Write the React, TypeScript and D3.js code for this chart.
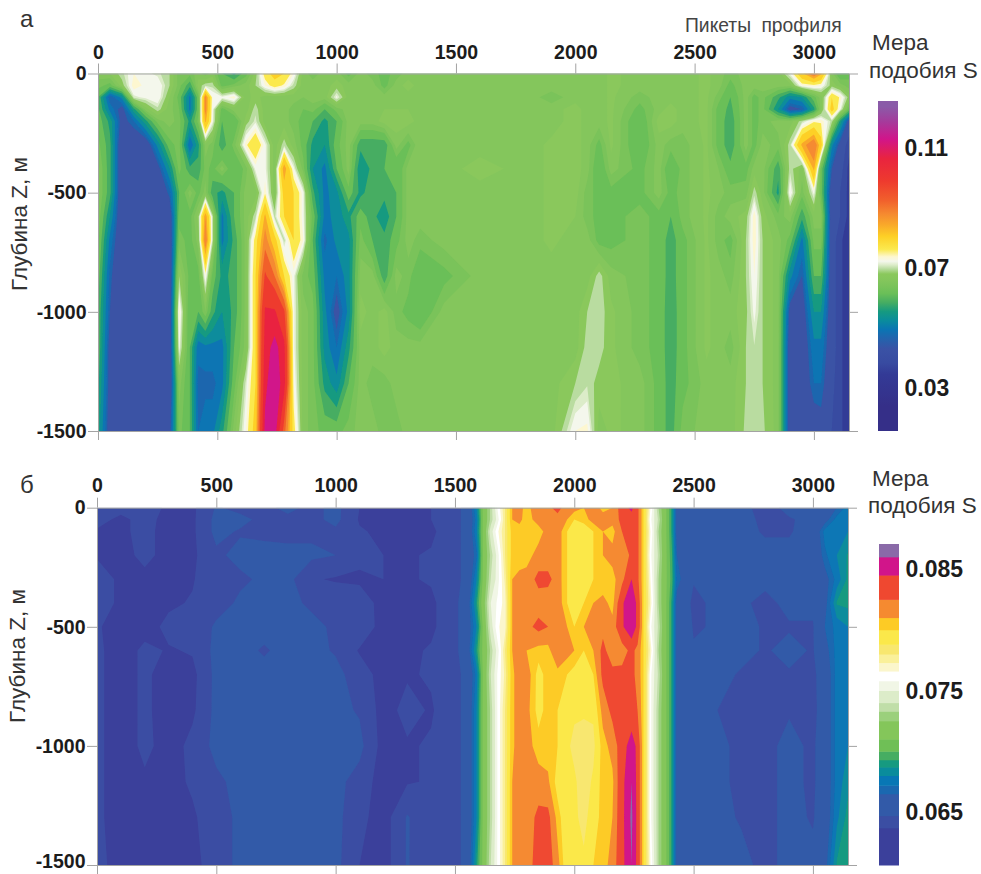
import React, { useEffect, useRef } from "react";
import * as d3 from "d3";

const FONT = "'Liberation Sans', Arial, sans-serif";

const picketTicks = [0, 500, 1000, 1500, 2000, 2500, 3000];
const depthTicks = [0, -500, -1000, -1500];

// similarity S x 1000, one list per picket, top to bottom
const picketsA = [0, 50, 100, 150, 200, 250, 300, 340, 385, 420, 450, 480, 520, 570, 620, 660, 700, 740, 780, 820, 860, 900, 950, 1000, 1050, 1100, 1150, 1200, 1250, 1300, 1350, 1450, 1600, 1800, 1900, 2000, 2050, 2100, 2150, 2270, 2350, 2400, 2450, 2550, 2600, 2650, 2715, 2750, 2785, 2850, 2900, 2950, 3000, 3030, 3075, 3110, 3147];
const depthsA = [0, -50, -100, -150, -200, -300, -400, -500, -600, -700, -850, -1000, -1150, -1300, -1500];
const simA = [
  [66, 64, 60, 61, 62, 64, 66, 66, 65, 64, 62, 60, 60, 58, 56],
  [67, 62, 46, 50, 56, 58, 58, 58, 54, 50, 47, 46, 44, 44, 43],
  [70, 68, 52, 44, 44, 41, 41, 41, 41, 41, 41, 41, 41, 41, 42],
  [73, 74, 71, 56, 48, 41, 41, 41, 41, 41, 41, 41, 41, 41, 41],
  [72, 72.5, 72, 66, 56, 42, 41, 41, 41, 41, 41, 41, 41, 41, 41],
  [71, 73, 73, 70, 64, 52, 44, 41, 41, 41, 41, 41, 41, 41, 41],
  [69, 69, 67, 66, 66, 62, 54, 47, 42, 41, 41, 41, 41, 41, 44],
  [64, 64, 62, 63, 64, 64, 64, 60, 62, 64, 69, 74, 72, 66, 64],
  [64, 58, 50, 50, 56, 48, 58, 66, 62, 62, 62, 60, 60, 60, 60],
  [66, 68, 62, 62, 64, 56, 58, 62, 68, 66, 62, 60, 49, 47, 48],
  [64, 70, 88, 88, 84, 66, 64, 66, 86, 90, 73, 65, 50, 47, 50],
  [66, 70, 73, 72, 72, 64, 62, 58, 70, 70, 62, 58, 50, 47, 50],
  [60, 62, 72, 62, 60, 58, 66, 56, 50, 50, 56, 54, 50, 50, 56],
  [56, 64, 74, 66, 60, 64, 60, 60, 60, 58, 58, 58, 60, 62, 66],
  [62, 66, 66, 66, 68, 74, 64, 66, 66, 66, 66, 66, 66, 71, 73],
  [68, 69, 68, 70, 71, 78, 72, 66, 70, 76, 78, 78, 78, 78, 80],
  [76, 73, 66, 66, 66, 72, 72, 74, 84, 88, 96, 104, 106, 108, 112],
  [80, 76, 66, 66, 66, 66, 66, 66, 70, 80, 90, 104, 113, 116, 114],
  [78, 74, 66, 66, 66, 70, 86, 80, 78, 70, 78, 96, 105, 106, 92],
  [73, 70, 66, 64, 64, 66, 72, 78, 78, 78, 72, 72, 72, 73, 76],
  [66, 66, 65, 63, 62, 62, 64, 72, 72, 73, 64, 66, 66, 66, 66],
  [64, 66, 66, 64, 60, 56, 54, 58, 62, 60, 62, 64, 64, 64, 64],
  [66, 66, 66, 60, 56, 54, 50, 50, 50, 47, 50, 52, 53, 56, 62],
  [66, 68, 72, 64, 60, 62, 60, 53, 52, 52, 48, 44, 48, 52, 62],
  [62, 66, 66, 66, 66, 66, 66, 62, 56, 53, 53, 52, 56, 60, 64],
  [66, 66, 66, 66, 66, 58, 54, 56, 62, 64, 66, 68, 66, 66, 66],
  [64, 66, 66, 66, 66, 58, 58, 59, 58, 60, 66, 66, 66, 64, 66],
  [62, 62, 66, 67, 68, 58, 60, 58, 55, 58, 58, 68, 68, 64, 64],
  [64, 66, 66, 67, 68, 66, 60, 60, 60, 62, 66, 64, 66, 66, 64],
  [66, 68, 66, 67, 68, 62, 66, 66, 66, 66, 64, 62, 66, 66, 66],
  [66, 66, 66, 66, 66, 67, 66, 66, 66, 64, 60, 60, 66, 66, 66],
  [65, 65, 65, 65, 65, 66, 66, 66, 66, 66, 62, 66, 66, 66, 66],
  [66, 66, 66, 66, 66, 66, 68, 66, 66, 66, 66, 66, 66, 66, 66],
  [66, 66, 66, 66, 66, 66, 66, 66, 66, 66, 66, 66, 66, 66, 66],
  [66, 66, 64, 66, 66, 67.5, 67.5, 67.5, 67.5, 67.5, 66, 66, 66, 66, 66],
  [66, 66, 66, 68, 68, 68, 68, 68, 67, 66, 66, 66, 66, 69, 73],
  [66, 66, 66, 66, 66, 66, 66, 64, 64, 66, 66, 69, 70, 70.3, 73.5],
  [66, 66, 66, 66, 66, 62, 60, 62, 62, 62, 70, 70.3, 70, 68, 66],
  [67.5, 67.5, 67.5, 67.5, 67.5, 67.5, 66, 62, 62, 62, 66, 67.5, 67.5, 67.5, 67.5],
  [66, 66, 64, 62, 60, 60, 62, 62, 64, 64, 64, 64, 64, 66, 66],
  [66, 66, 66, 66, 68, 66, 66, 66, 62, 62, 62, 62, 62, 62, 62],
  [66, 66, 66, 68, 68, 64, 60, 62, 60, 58.5, 58.5, 58, 58, 58.5, 58.5],
  [66, 66, 66, 66, 66, 64, 64, 64, 64, 62, 62, 62, 62, 62, 64],
  [67.5, 67.5, 67.5, 67.5, 67.5, 67.5, 67.5, 67.5, 67.5, 67.5, 67.5, 67.5, 67.5, 66, 66],
  [66, 66, 64, 62, 62, 62, 65, 66, 64, 64, 66, 66, 66, 66, 66],
  [64, 62, 60, 59, 58, 58, 61, 64, 66, 62, 64, 66, 64, 66, 66],
  [66, 66, 66, 66, 66, 66, 62, 64, 68, 69, 69, 68.5, 69, 69, 69.5],
  [66, 66, 62, 62, 62, 62, 66, 70, 74, 74, 73, 72, 70.4, 70.3, 70.3],
  [66, 66, 64, 64, 64, 66, 66, 66, 68, 69, 69, 69, 69, 69, 69.5],
  [66, 66, 58, 54, 66, 64, 58, 56, 64, 66, 66, 66, 66, 66, 66],
  [72, 66, 52, 44, 66, 70, 70, 73, 66, 62, 52, 44, 42, 42, 42],
  [82, 73, 54, 46, 70, 84, 66, 64, 58, 50, 46, 43, 42, 42, 42],
  [90, 74, 62, 56, 74, 90, 84, 72, 66, 64, 60, 54, 50, 48, 43],
  [84, 73, 66, 66, 74, 80, 62, 62, 66, 64, 60, 54, 50, 48, 44],
  [66, 68, 78, 80, 70, 52, 46, 42, 42, 42, 42, 42, 42, 41, 40],
  [60, 66, 74, 72, 56, 44, 42, 40, 40, 38, 38, 38, 38, 38, 38],
  [62, 64, 68, 62, 44, 38, 36, 36, 36, 34, 34, 34, 34, 34, 34],
];

const picketsB = [0, 100, 200, 300, 400, 500, 600, 700, 800, 900, 1000, 1100, 1200, 1300, 1400, 1500, 1550, 1590, 1620, 1650, 1680, 1710, 1740, 1770, 1800, 1850, 1890, 1930, 1970, 2000, 2040, 2080, 2120, 2160, 2200, 2240, 2265, 2290, 2320, 2350, 2380, 2410, 2430, 2500, 2600, 2700, 2800, 2900, 3000, 3050, 3100, 3147];
const depthsB = [0, -50, -100, -200, -300, -400, -500, -600, -700, -850, -1000, -1150, -1300, -1500];
const simB = [
  [64, 64, 63.6, 63.6, 64.2, 64.2, 63.8, 64, 64, 64, 64, 64, 64, 64],
  [64, 63.5, 63.5, 63.3, 63.5, 63.5, 63.3, 63, 63, 63, 63, 63, 63, 63.3],
  [64.2, 64, 64, 64, 63.4, 63.3, 63.2, 64, 64, 64, 64, 63.5, 63.2, 63],
  [63.5, 63.4, 63.3, 63.3, 63.3, 63.5, 64, 63.6, 63, 63, 63.2, 63.2, 63, 63],
  [63.5, 63.5, 63.5, 63.5, 63.6, 63.8, 63.8, 63.8, 63.4, 63.5, 64, 63.9, 63.5, 63.2],
  [64.8, 65, 65, 64.5, 64.6, 64.2, 64.9, 65, 65, 65, 65, 64.5, 64.5, 64.5],
  [64.4, 65, 64.6, 65, 64.5, 64.9, 65, 65, 65, 65, 65, 65, 64.8, 64.8],
  [64.4, 64.4, 64.5, 65, 64.9, 65, 65, 64.6, 65, 65, 65, 65, 65, 65],
  [65, 64.4, 64.4, 65, 65, 65, 65, 65, 65, 65, 65, 65, 65, 65],
  [64.4, 64.4, 64.5, 64.9, 63.8, 64.5, 65, 65, 65, 65, 65, 65, 65, 65],
  [65, 65, 64.5, 64.7, 63.6, 64.4, 64.5, 64.6, 65, 65, 65, 65, 65, 65],
  [63.7, 63.6, 63.8, 64, 63.5, 64.3, 64.4, 63.6, 64.2, 64.6, 65, 64.3, 64, 63.7],
  [63.5, 63.4, 63.5, 63.7, 63.7, 63.3, 63.3, 63.3, 63.3, 63.3, 63.3, 63.2, 63.2, 63.2],
  [63.5, 63.5, 63.5, 63.6, 63.6, 63.5, 63.2, 63.5, 63.6, 64, 63.6, 63.6, 64.8, 64.8],
  [63.7, 63.7, 63.5, 63.8, 63.8, 63.5, 63.5, 63.8, 63.8, 63.6, 63.8, 63.8, 63.8, 63.7],
  [64.4, 64.4, 64.4, 64.4, 64.4, 64.4, 64.4, 64.4, 64.4, 64.4, 64.4, 64.4, 64.4, 64.4],
  [65, 65, 65, 65, 65, 65.5, 65.5, 65.5, 65, 65, 65, 65, 65, 65],
  [68, 67.5, 67.8, 67, 68, 69, 68, 69, 67.5, 68, 68, 68, 68, 69],
  [71.5, 71.5, 71.5, 71.5, 71.5, 72, 71.5, 71.5, 71.5, 71.5, 71.5, 71.5, 71.5, 71.5],
  [73.5, 73.5, 74.5, 73.5, 74, 75, 74.5, 73.5, 74, 73.5, 73.5, 73.5, 73.5, 74],
  [76, 75.5, 76.5, 75.5, 75.5, 76, 76.5, 75.5, 76, 76, 76, 76, 76, 76],
  [78, 78, 78, 78, 77.5, 77, 77, 78, 77.5, 78, 78, 78, 78, 78],
  [81, 81, 80.5, 80.5, 81, 81, 81, 81, 80.8, 80.8, 80.8, 81, 81, 81],
  [81.5, 81.3, 80.5, 80.5, 81.3, 81.5, 81.5, 81.5, 81.5, 81.5, 81.5, 81.5, 81.5, 81.5],
  [80.5, 80.5, 80.5, 80.5, 81.5, 82, 82, 81, 81.8, 81.5, 81.5, 81.5, 81.5, 81.5],
  [82, 81.5, 80.5, 81.5, 83, 81.7, 83, 80.5, 79.5, 79.5, 80.5, 81.5, 83, 83.5],
  [82, 81.5, 81.5, 81.5, 83, 81.5, 82.5, 80.5, 80.5, 80.5, 80.5, 81.2, 83, 83.5],
  [83.2, 81.7, 81.7, 81.7, 81.7, 81.8, 81.5, 82.5, 80.5, 80, 80, 79.5, 80.5, 81.5],
  [81.5, 81, 80, 80, 80, 80, 81, 81.5, 80, 79, 79, 79, 79, 79],
  [81.5, 80, 79, 79, 79, 79, 80, 81, 79.5, 79, 78.5, 79, 79, 79],
  [81, 80.5, 79, 79, 79, 80, 81, 80, 79.5, 79, 78.2, 78.2, 78.5, 79],
  [81.5, 81.5, 80, 80, 80, 81, 82.5, 81, 80, 79, 78.5, 79, 79.3, 80],
  [80.7, 81.5, 81, 81, 80, 81.5, 82, 83, 83, 81.5, 80.5, 80.5, 80.5, 80.5],
  [81, 81.5, 80.5, 81.5, 80.5, 80.5, 81.5, 81.5, 83, 83, 81.5, 80.7, 81, 81.5],
  [83.5, 83, 82.5, 81, 82, 84.2, 84.2, 81.7, 83, 83, 83.5, 84, 84, 84],
  [85, 83.5, 83, 83, 84.5, 86, 86, 83, 83, 83, 85.5, 86, 86.3, 86],
  [83, 83, 83, 83, 83, 84, 84, 82, 82, 82.5, 84, 84, 84, 84],
  [80, 80, 80, 80, 80, 80, 80, 80, 80, 80, 80, 80, 80, 80],
  [76.5, 76, 76.5, 76, 76.5, 77, 76, 77, 76, 76, 76, 76, 76, 76.5],
  [73.5, 74, 73.5, 74, 73.5, 73.5, 74, 73.5, 74, 73.5, 73.5, 73.5, 73.5, 73.5],
  [71.5, 71.5, 71.5, 71.5, 71.5, 71.5, 71.5, 71.5, 71.5, 71.5, 71.5, 71.5, 71.5, 71.5],
  [69, 69, 69, 69.3, 69.5, 69, 69, 69, 69, 69, 69, 69, 69, 69],
  [66, 66, 66, 66.5, 67, 66, 66, 66, 66, 66, 66, 66, 66, 66],
  [65, 65, 65, 65, 64.8, 64.4, 64.6, 64.8, 64.8, 65, 65, 65, 65, 65],
  [64.8, 64.8, 65, 65, 65, 65, 64.8, 65, 65, 64.7, 65, 65, 65, 65],
  [65, 65, 65, 65, 65, 64.9, 65, 65, 64.6, 64.4, 64.4, 64.4, 64.6, 65],
  [64.3, 64.5, 64.6, 65, 65, 64.4, 64.6, 64.6, 64.4, 64.4, 64.4, 64.4, 64.4, 64.4],
  [65, 64.6, 64.6, 65, 65, 65, 64.6, 65, 64.6, 64.6, 65, 65, 65, 65],
  [65, 65, 65.2, 65, 65, 65, 64.6, 64.6, 64.4, 64.3, 64.5, 64.5, 64.6, 65],
  [65, 66, 67.5, 67, 66, 66, 66.5, 66, 65.5, 65.5, 65.5, 65.5, 65.5, 66],
  [66.5, 67.5, 67.5, 68, 67.5, 68.8, 67.5, 67.5, 67.5, 67.5, 67.5, 67.5, 67.8, 68.8],
  [67.5, 67.8, 68, 68.8, 68.9, 68.9, 68, 67.5, 67.8, 67.8, 68, 68.5, 69, 69],
];

// lower bound of each colour band, and its colour
const boundsA = [15, 32, 37, 40, 46, 48, 51, 54, 57, 60, 63, 65, 67, 69, 70.5, 71.5, 73, 74.5, 78, 83, 86, 90, 95, 103, 110, 116, 122];
const coloursA = ["#352f88", "#333a96", "#384ba1", "#3a52a5", "#1f66ae", "#0a75b3", "#0a8c9c", "#169a80", "#46ad62", "#6abf58", "#7ac35a", "#84c65c", "#8ac85c", "#b9dca0", "#dcecc9", "#f4f7ec", "#fdf7d0", "#fbe94e", "#fdd026", "#f9a82a", "#f58a30", "#f1602c", "#ee3a2e", "#e9243f", "#d1158a", "#a43c9c", "#8a5ba8"];
const boundsB = [60, 63.7, 64.7, 66.5, 67.2, 68, 68.7, 69.3, 70, 71, 72.5, 73.3, 74, 75, 75.8, 76.6, 77.3, 78, 78.8, 80, 81, 82.5, 84.5, 86];
const coloursB = ["#3b409b", "#3b4ea3", "#325aa8", "#1a68b0", "#0877b5", "#0a8c9c", "#169a80", "#46ad62", "#6fbf56", "#84c65a", "#9bd07c", "#c0dea8", "#dcecc9", "#f1f6e6", "#ffffff", "#fbf6cc", "#faf09a", "#f8e76f", "#fbe84a", "#fdcb25", "#f58a30", "#ef4830", "#d1158a", "#8a6aa8"];

const legendTicksA = [30, 70, 110];
const legendTicksB = [65, 75, 85];

function Panel({ id, pickets, depths, columns, bounds, colours, left, right, top, bottom, legendTicks, legendTop, legendBottom, legendRange, legendX, labelFormat, smooth, labelX, labelY, topPadding }: any) {
  const topRef = useRef(null);
  const bottomRef = useRef(null);
  const leftRef = useRef(null);
  const rightRef = useRef(null);

  const x = d3.scaleLinear().domain([0, 3147]).range([left, right]);
  const y = d3.scaleLinear().domain([0, -1500]).range([top, bottom]);

  // grid index -> picket / depth, the lists are not evenly spaced
  const ix = d3.scaleLinear().domain(pickets.map((_: number, i: number) => i + 0.5)).range(pickets).clamp(true);
  const iy = d3.scaleLinear().domain(depths.map((_: number, j: number) => j + 0.5)).range(depths).clamp(true);
  const n = pickets.length;
  const m = depths.length;
  const flat: number[] = [];
  for (let j = 0; j < m; j++) for (let i = 0; i < n; i++) flat.push(columns[i][j]);
  const bands = d3.contours().size([n, m]).thresholds(bounds)(flat);
  const project = d3.geoTransform({
    point(px: number, py: number) {
      (this as any).stream.point(x(ix(px)), y(iy(py)));
    },
  });
  const path = d3.geoPath(project);
  const colour = d3.scaleThreshold<number, string>().domain(bounds.slice(1)).range(colours);

  // colour bar
  const legendY = d3.scaleLinear().domain([legendTicks[0], legendTicks[2]]).range(legendRange);
  const sMin = legendY.invert(legendBottom);
  const sMax = legendY.invert(legendTop);
  const edges = [...bounds.filter((b: number) => b > sMin && b < sMax)];
  const cells = [sMin, ...edges].map((lo: number, i: number, arr: number[]) => ({
    lo,
    hi: i + 1 < arr.length ? arr[i + 1] : sMax,
  }));
  const gradId = `grad-${id}`;

  useEffect(() => {
    const style = (g: any) => {
      g.selectAll("line").attr("stroke", "#a3a3a3").attr("stroke-width", 1);
      g.selectAll("path").attr("stroke", "#a3a3a3").attr("stroke-width", 1);
      g.selectAll("text")
        .attr("fill", "#1c1c1c")
        .attr("font-size", 19.5)
        .attr("font-weight", "bold")
        .attr("font-family", FONT);
    };
    d3.select(topRef.current)
      .call(d3.axisTop(x).tickValues(picketTicks).tickSize(10).tickSizeOuter(0).tickPadding(topPadding).tickFormat((d: any) => String(d)) as any)
      .call(style);
    d3.select(bottomRef.current)
      .call(d3.axisBottom(x).tickValues(picketTicks).tickSize(9).tickSizeOuter(0).tickFormat(() => "") as any)
      .call(style);
    d3.select(leftRef.current)
      .call(d3.axisLeft(y).tickValues(depthTicks).tickSize(10).tickSizeOuter(0).tickPadding(1.5).tickFormat((d: any) => String(d)) as any)
      .call(style);
    // the lowest label of the lower panel sits right at the page edge
    if (bottom > 860) {
      d3.select(leftRef.current)
        .selectAll("text")
        .filter((d: any) => d === -1500)
        .attr("dy", "0.12em");
    }
    d3.select(rightRef.current)
      .call(d3.axisRight(y).tickValues(depthTicks).tickSize(9).tickSizeOuter(0).tickFormat(() => "") as any)
      .call(style);
  }, []);

  return (
    <g>
      <clipPath id={`clip-${id}`}>
        <rect x={left} y={top} width={right - left} height={bottom - top} />
      </clipPath>
      <filter id={`soft-${id}`} x="-2%" y="-2%" width="104%" height="104%">
        <feGaussianBlur stdDeviation={0.7} />
      </filter>
      <g clipPath={`url(#clip-${id})`}>
        <g filter={`url(#soft-${id})`}>
          {bands.map((b: any, i: number) => (
            <path key={i} d={path(b) || ""} fill={colour(b.value)} />
          ))}
        </g>
      </g>
      <g ref={topRef} transform={`translate(0,${top})`} />
      <g ref={bottomRef} transform={`translate(0,${bottom})`} />
      <g ref={leftRef} transform={`translate(${left},0)`} />
      <g ref={rightRef} transform={`translate(${right},0)`} />

      {smooth && (
        <linearGradient id={gradId} x1="0" y1="1" x2="0" y2="0">
          {cells.map((c: any, i: number) => (
            <stop key={i} offset={((c.lo + c.hi) / 2 - sMin) / (sMax - sMin)} stopColor={colour((c.lo + c.hi) / 2)} />
          ))}
        </linearGradient>
      )}
      {smooth ? (
        <rect x={legendX} y={legendTop} width={20} height={legendBottom - legendTop} fill={`url(#${gradId})`} />
      ) : (
        cells.map((c: any, i: number) => (
          <rect key={i} x={legendX} y={legendY(c.hi)} width={20} height={legendY(c.lo) - legendY(c.hi) + 0.5} fill={colour((c.lo + c.hi) / 2)} />
        ))
      )}
      {legendTicks.map((t: number) => (
        <text key={t} x={legendX + 26.5} y={legendY(t) + 8} fontSize={23} fontWeight="bold" fontFamily={FONT} fill="#1c1c1c">
          {labelFormat(t / 1000)}
        </text>
      ))}

      <text x={labelX} y={labelY} fontSize={22.5} fontFamily={FONT} fill="#333" textAnchor="middle" transform={`rotate(-90 ${labelX} ${labelY})`}>
        Глубина Z, м
      </text>
    </g>
  );
}

export default function App() {
  return (
    <svg width={981} height={874} style={{ position: "absolute", left: 0, top: 0, background: "#fff" }}>
      <Panel
        id="a"
        pickets={picketsA}
        depths={depthsA}
        columns={simA}
        bounds={boundsA}
        colours={coloursA}
        left={98}
        right={849}
        top={73.5}
        bottom={431}
        legendTicks={legendTicksA}
        legendTop={101}
        legendBottom={431}
        legendRange={[388, 148]}
        legendX={878}
        labelFormat={d3.format(".2f")}
        smooth={true}
        labelX={27}
        labelY={224}
        topPadding={4.5}
      />
      <Panel
        id="b"
        pickets={picketsB}
        depths={depthsB}
        columns={simB}
        bounds={boundsB}
        colours={coloursB}
        left={97}
        right={848}
        top={507.7}
        bottom={865}
        legendTicks={legendTicksB}
        legendTop={544}
        legendBottom={865}
        legendRange={[812, 569]}
        legendX={879}
        labelFormat={d3.format(".3f")}
        smooth={false}
        labelX={25}
        labelY={656}
        topPadding={6}
      />
      <g fontFamily={FONT} fill="#333">
        <text x={20} y={27} fontSize={24}>а</text>
        <text x={20} y={493} fontSize={24}>б</text>
        <text x={685} y={32} fontSize={19.3} fill="#444" wordSpacing={5}>Пикеты профиля</text>
        <text x={872} y={50} fontSize={22.5}>Мера</text>
        <text x={869} y={78} fontSize={22.5}>подобия S</text>
        <text x={872} y={486} fontSize={22.5}>Мера</text>
        <text x={868} y={513} fontSize={22.5}>подобия S</text>
      </g>
    </svg>
  );
}
